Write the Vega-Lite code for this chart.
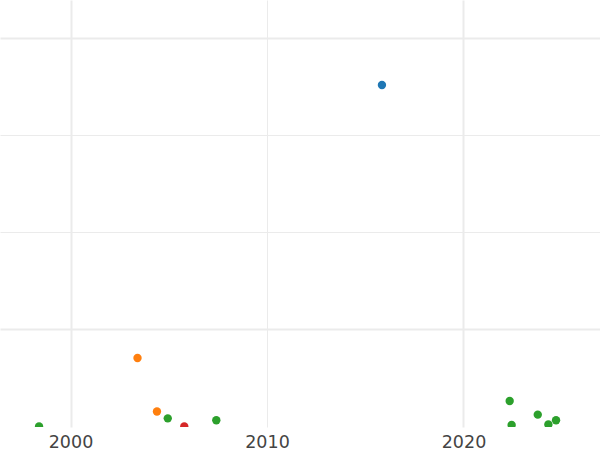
{
  "$schema": "https://vega.github.io/schema/vega-lite/v6.json",
  "width": 600,
  "height": 427,
  "autosize": {"type": "none"},
  "padding": {"top": 0, "left": 0, "right": 0, "bottom": 23},
  "background": "white",
  "config": {"view": {"stroke": null}},
  "data": {"values": [
    {"year": 2015.85, "value": 3.515, "series": "A"},
    {"year": 2003.41, "value": 0.701, "series": "B"},
    {"year": 2004.40, "value": 0.150, "series": "B"},
    {"year": 1998.40, "value": -0.005, "series": "C"},
    {"year": 2004.95, "value": 0.079, "series": "C"},
    {"year": 2007.42, "value": 0.059, "series": "C"},
    {"year": 2022.35, "value": 0.258, "series": "C"},
    {"year": 2022.45, "value": 0.010, "series": "C"},
    {"year": 2023.78, "value": 0.117, "series": "C"},
    {"year": 2024.32, "value": 0.015, "series": "C"},
    {"year": 2024.71, "value": 0.059, "series": "C"},
    {"year": 2005.79, "value": -0.005, "series": "D"}
  ]},
  "mark": {"type": "circle", "size": 70, "opacity": 1, "clip": true},
  "encoding": {
    "x": {
      "field": "year", "type": "quantitative",
      "scale": {"domain": [1996.412, 2026.947], "nice": false, "zero": false},
      "axis": {
        "title": null, "values": [2000, 2010, 2020], "format": "d",
        "domain": false, "ticks": false, "tickSize": 0, "labelPadding": 6,
        "labelFont": "DejaVu Sans", "labelFontSize": 17.5, "labelColor": "#444444",
        "gridColor": "#ebebeb",
        "gridWidth": {"condition": {"test": "datum.value == 2010", "value": 1}, "value": 2}
      }
    },
    "y": {
      "field": "value", "type": "quantitative",
      "scale": {"domain": [-0.0103, 4.3918], "nice": false, "zero": false},
      "axis": {
        "title": null, "values": [1, 2, 3, 4], "labels": false,
        "domain": false, "ticks": false,
        "gridColor": "#ebebeb",
        "gridWidth": {"condition": {"test": "datum.value == 1 || datum.value == 4", "value": 2}, "value": 1}
      }
    },
    "color": {
      "field": "series", "type": "nominal",
      "scale": {"domain": ["A", "B", "C", "D"], "range": ["#1f77b4", "#ff7f0e", "#2ca02c", "#d62728"]},
      "legend": null
    }
  }
}
